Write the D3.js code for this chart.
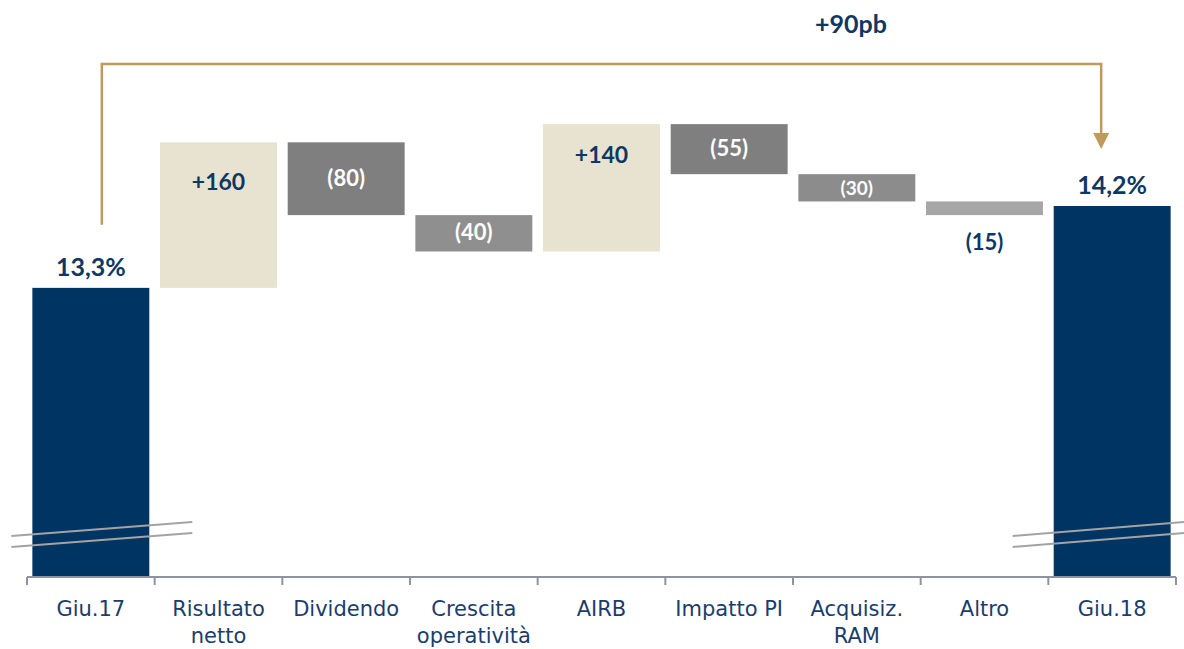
<!DOCTYPE html>
<html>
<head>
<meta charset="utf-8">
<script src="https://cdn.jsdelivr.net/npm/d3@7"></script>
<style>
  body { margin: 0; background: #fff; }
  svg { display: block; }
</style>
</head>
<body>
<script>
(function() {
    var w = 1184;
    var h = 649;

    // data (basis points)
    var categories = ["Giu.17", "Risultato netto", "Dividendo", "Crescita operatività", "AIRB", "Impatto PI", "Acquisiz. RAM", "Altro", "Giu.18"];
    var categoryLines = [["Giu.17"], ["Risultato", "netto"], ["Dividendo"], ["Crescita", "operatività"], ["AIRB"], ["Impatto PI"], ["Acquisiz.", "RAM"], ["Altro"], ["Giu.18"]];
    var values = [1330, 160, -80, -40, 140, -55, -30, -15, 1420];
    var valueLabels = ["13,3%", "+160", "(80)", "(40)", "+140", "(55)", "(30)", "(15)", "14,2%"];
    var barTypes = ["total", "up", "down", "down", "up", "down", "down", "down", "total"];
    var deltaLabel = "+90pb";

    var navy = "#003462";
    var textNavy = "#0f3763";
    var gold = "#bf9a5a";
    var beige = "#e8e2d0";
    var grayShades = ["#7f7f7f", "#8f8f8f", "#7f7f7f", "#8c8c8c", "#a6a6a6"];

    // build waterfall steps
    var steps = [];
    var run = 0, g = 0;
    values.forEach(function(v, i) {
        var t = barTypes[i];
        var d = { cat: categories[i], lines: categoryLines[i], label: valueLabels[i], type: t };
        if (t === "total") { d.y0 = null; d.y1 = v; run = v; }
        else { d.y0 = run; d.y1 = run + v; run = d.y1; }
        if (t === "down") { d.color = grayShades[g++]; }
        else if (t === "up") { d.color = beige; }
        else { d.color = navy; }
        steps.push(d);
    });

    var svg = d3.select("body").append("svg")
        .attr("width", w)
        .attr("height", h);

    var x = d3.scaleBand()
        .domain(categories)
        .range([27, 1176])
        .paddingInner(0.084)
        .paddingOuter(0.042);

    // broken axis: bottom of plot is not zero
    var y = d3.scaleLinear()
        .domain([1011, 1646.5])
        .range([578, 0]);

    var base = y.domain()[0];

    // bars
    svg.selectAll("rect.bar")
        .data(steps)
        .enter()
        .append("rect")
        .attr("class", "bar")
        .attr("x", function(d) { return x(d.cat); })
        .attr("width", x.bandwidth())
        .attr("y", function(d) {
            return d.type === "total" ? y(d.y1) : y(Math.max(d.y0, d.y1));
        })
        .attr("height", function(d) {
            if (d.type === "total") return y(base) - y(d.y1);
            return Math.abs(y(d.y0) - y(d.y1));
        })
        .attr("fill", function(d) { return d.color; });

    // value labels
    svg.selectAll("text.val")
        .data(steps)
        .enter()
        .append("text")
        .attr("class", "val")
        .attr("x", function(d) { return x(d.cat) + x.bandwidth() / 2; })
        .attr("y", function(d) {
            if (d.type === "total") return y(d.y1) - 12;
            var top = y(Math.max(d.y0, d.y1)), bot = y(Math.min(d.y0, d.y1));
            if (d.type === "up") return (top + bot) / 2 - 25;
            if (bot - top < 20) return bot + 35;
            return (top + bot) / 2 + 7;
        })
        .attr("text-anchor", "middle")
        .attr("font-family", "Lato, 'DejaVu Sans', sans-serif")
        .attr("font-weight", "bold")
        .attr("font-size", function(d) {
            if (d.type === "total") return 25;
            if (d.type === "up") return 23;
            var hh = Math.abs(y(d.y0) - y(d.y1));
            if (hh < 20) return 22;
            return hh < 30 ? 19 : 22;
        })
        .attr("fill", function(d) {
            if (d.type !== "down") return textNavy;
            return Math.abs(y(d.y0) - y(d.y1)) < 20 ? textNavy : "#fff";
        })
        .text(function(d) { return d.label; });

    // axis line + ticks at band boundaries
    var step = x.step();
    var edges = categories.map(function(c) { return x(c) - step * x.paddingInner() / 2; });
    edges.push(edges[edges.length - 1] + step);
    var axisY = y(base) - 1;
    var axisColor = "#8e93a3";

    svg.append("line")
        .attr("x1", edges[0]).attr("x2", edges[edges.length - 1])
        .attr("y1", axisY).attr("y2", axisY)
        .attr("stroke", axisColor).attr("stroke-width", 2);

    svg.selectAll("line.tick")
        .data(edges)
        .enter()
        .append("line")
        .attr("class", "tick")
        .attr("x1", function(d) { return d; }).attr("x2", function(d) { return d; })
        .attr("y1", axisY).attr("y2", axisY + 8)
        .attr("stroke", axisColor).attr("stroke-width", 2);

    // category labels
    var cat = svg.selectAll("text.cat")
        .data(steps)
        .enter()
        .append("text")
        .attr("class", "cat")
        .attr("x", function(d) { return x(d.cat) + x.bandwidth() / 2; })
        .attr("y", 616)
        .attr("text-anchor", "middle")
        .attr("font-family", "'DejaVu Sans', sans-serif")
        .attr("font-size", 21)
        .attr("fill", "#1b3d6b");

    cat.selectAll("tspan")
        .data(function(d) { return d.lines.map(function(l) { return { l: l, x: x(d.cat) + x.bandwidth() / 2 }; }); })
        .enter()
        .append("tspan")
        .attr("x", function(d) { return d.x; })
        .attr("dy", function(d, i) { return i === 0 ? 0 : 27; })
        .text(function(d) { return d.l; });

    // axis break marks
    var breakY = y(base) - 47;
    var first = steps[0], last = steps[steps.length - 1];
    var breaks = [
        [x(first.cat) - 21, x(first.cat) + x.bandwidth() + 43],
        [x(last.cat) - 41, w]
    ];
    breaks.forEach(function(b) {
        [0, 11].forEach(function(off) {
            svg.append("line")
                .attr("x1", b[0]).attr("x2", b[1])
                .attr("y1", breakY + off + 5).attr("y2", breakY + off - 9)
                .attr("stroke", "#a3a3a3").attr("stroke-width", 2);
        });
    });

    // +90pb bracket
    var lx = x(first.cat) + x.bandwidth() / 2 + 11;
    var rx = x(last.cat) + x.bandwidth() / 2 - 11;
    var topY = 64;
    var tipY = y(last.y1) - 57;
    svg.append("path")
        .attr("d", "M" + lx + "," + (y(first.y1) - 63) + "V" + topY + "H" + rx + "V" + (tipY - 14))
        .attr("fill", "none")
        .attr("stroke", gold)
        .attr("stroke-width", 2.5);
    svg.append("path")
        .attr("d", "M" + (rx - 8) + "," + (tipY - 16) + "L" + (rx + 8) + "," + (tipY - 16) + "L" + rx + "," + tipY + "Z")
        .attr("fill", gold);

    svg.append("text")
        .attr("x", 851)
        .attr("y", 33)
        .attr("text-anchor", "middle")
        .attr("font-family", "Lato, 'DejaVu Sans', sans-serif")
        .attr("font-weight", "bold")
        .attr("font-size", 25)
        .attr("fill", textNavy)
        .text(deltaLabel);
})();
</script>
</body>
</html>
